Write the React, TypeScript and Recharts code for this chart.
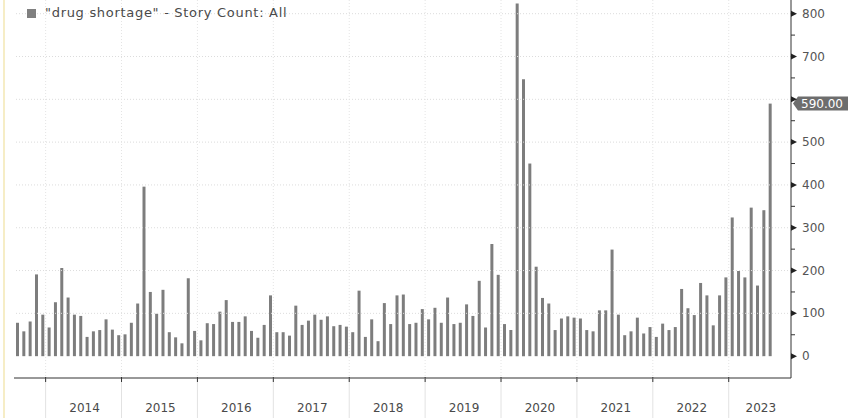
import { BarChart, Bar, XAxis, YAxis, ReferenceLine } from "recharts";

// Monthly story counts, Aug 2013 .. Jul 2023
const counts = [
  78, 58, 81, 191, 97,
  67, 126, 206, 137, 97, 94, 45, 58, 61, 86, 62, 49,
  51, 78, 123, 396, 150, 99, 155, 56, 44, 30, 182, 59,
  37, 77, 75, 104, 131, 80, 80, 93, 59, 43, 73, 142,
  56, 56, 48, 118, 73, 83, 97, 85, 93, 70, 73, 69,
  56, 153, 45, 86, 35, 124, 75, 142, 144, 75, 78, 110,
  86, 113, 78, 137, 75, 78, 121, 94, 176, 67, 262, 190,
  75, 61, 824, 647, 450, 209, 136, 123, 61, 88, 93, 90,
  88, 61, 58, 107, 107, 249, 97, 49, 58, 90, 53, 68,
  45, 76, 61, 68, 157, 112, 96, 171, 142, 72, 142, 184,
  324, 199, 184, 347, 165, 341, 590,
];
const firstYear = 2013;
const firstMonth = 8;
const yTicks = [0, 50, 100, 150, 200, 250, 300, 350, 400, 450, 500, 550, 600, 650, 700, 750, 800];
const gridValues = [100, 200, 300, 400, 500, 600, 700, 800];
const legendText = '"drug shortage" - Story Count: All';

const months = counts.map((_, i) => {
  const m = firstMonth - 1 + i;
  return `${firstYear + Math.floor(m / 12)}-${String((m % 12) + 1).padStart(2, "0")}`;
});
const data = months.map((month, i) => ({ month, count: counts[i] }));
const last = counts[counts.length - 1];

const W = 848;
const H = 418;
const PLOT_LEFT = 14;
const AXIS_W = 57;
const PAD_RIGHT = 18;
const X_AXIS_H = 40;
const BW = (W - PLOT_LEFT - AXIS_W - PAD_RIGHT) / counts.length;
const FONT = "'DejaVu Sans', sans-serif";

function YearTick({ x, y, payload }: any) {
  const key = String(payload.value);
  if (!key.endsWith("-01")) return <g />;
  const bx = x - BW / 2;
  const right = W - AXIS_W;
  const cx = Math.min(bx + 6 * BW, (bx + right) / 2);
  return (
    <g>
      <line x1={bx} x2={bx} y1={0} y2={y} stroke="#e4e4e4" strokeDasharray="1 2" />
      <line x1={bx} x2={bx} y1={y} y2={H} stroke="#e2e2e2" />
      <line x1={bx} x2={bx} y1={y - 1} y2={y + 4} stroke="#333" />
      <text x={cx + 1} y={y + 30} textAnchor="middle" dominantBaseline="central" fill="#4a4a4a" fontSize={12} fontFamily={FONT}>
        {key.slice(0, 4)}
      </text>
    </g>
  );
}

function ValueTick({ x, y, payload }: any) {
  const v = Number(payload.value);
  if (v % 100 !== 0) return <line x1={x} x2={x + 4} y1={y} y2={y} stroke="#333" />;
  // the last-value tag covers the label next to it
  const hidden = Math.abs(v - last) < 30;
  return (
    <g>
      <polygon points={`${x},${y - 3} ${x + 6},${y} ${x},${y + 3}`} fill="#222" />
      {!hidden && (
        <text x={x + 11} y={y} dominantBaseline="central" fill="#555" fontSize={12} fontFamily={FONT}>
          {v}
        </text>
      )}
    </g>
  );
}

function LastValueTag({ viewBox }: any) {
  const tip = viewBox.x + viewBox.width + 2;
  const y = viewBox.y;
  return (
    <g>
      <polygon
        points={`${tip},${y} ${tip + 5},${y - 7} ${W},${y - 7} ${W},${y + 7} ${tip + 5},${y + 7}`}
        fill="#6d6d6d"
      />
      <text x={tip + 8} y={y} dominantBaseline="central" fill="#fff" fontSize={12} fontFamily={FONT}>
        {last.toFixed(2)}
      </text>
    </g>
  );
}

export default function App() {
  return (
    <div style={{ position: "absolute", left: 0, top: 0, width: W, height: H, background: "#fff", overflow: "hidden" }}>
      <div style={{ position: "absolute", left: 3, top: 0, width: 2, height: H, background: "#f6edc6" }} />
      <BarChart width={W} height={H} data={data} margin={{ top: 0, right: 0, bottom: 0, left: PLOT_LEFT }} barCategoryGap={0}>
        {gridValues.map((g) => (
          <ReferenceLine key={g} y={g} stroke="#dcdcdc" strokeDasharray="1 2" />
        ))}
        <XAxis
          dataKey="month"
          interval={0}
          height={X_AXIS_H}
          padding={{ left: 0, right: PAD_RIGHT }}
          tickSize={0}
          tickMargin={0}
          tickLine={false}
          axisLine={{ stroke: "#333" }}
          tick={<YearTick />}
        />
        <YAxis
          orientation="right"
          width={AXIS_W}
          domain={[-51, 832]}
          allowDataOverflow
          ticks={yTicks}
          interval={0}
          tickSize={0}
          tickMargin={0}
          tickLine={false}
          axisLine={{ stroke: "#333" }}
          tick={<ValueTick />}
        />
        <Bar dataKey="count" fill="#7d7d7d" barSize={3} isAnimationActive={false} />
        <ReferenceLine y={last} stroke="none" label={<LastValueTag />} />
      </BarChart>
      <div style={{ position: "absolute", left: 27, top: 9, width: 9, height: 9, background: "#808080" }} />
      <div
        style={{
          position: "absolute",
          left: 45,
          top: 5,
          fontFamily: FONT,
          fontSize: 13,
          letterSpacing: 0.7,
          color: "#4a4a4a",
          whiteSpace: "nowrap",
        }}
      >
        {legendText}
      </div>
    </div>
  );
}
